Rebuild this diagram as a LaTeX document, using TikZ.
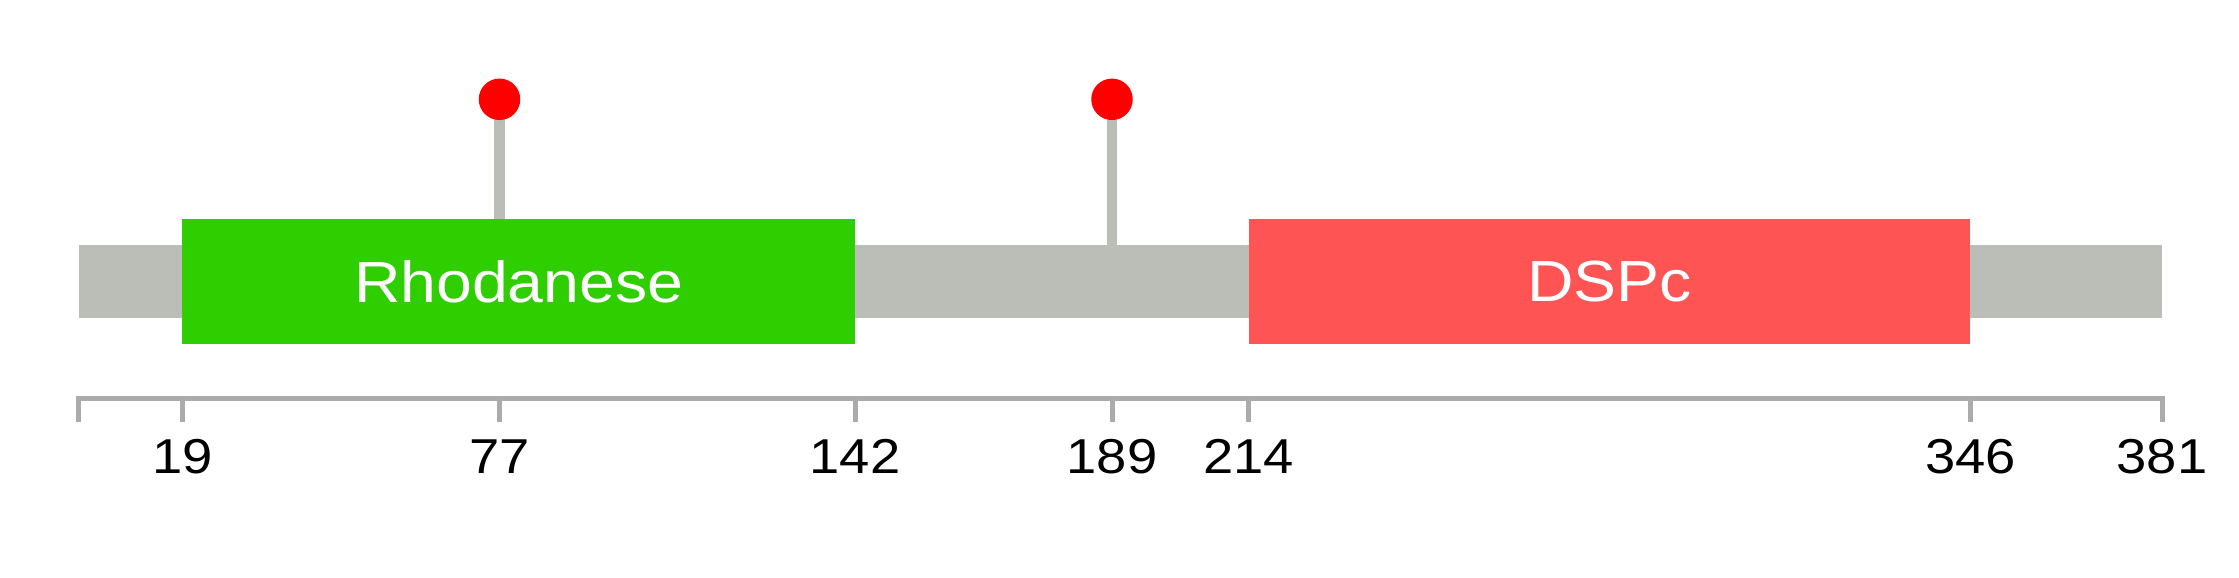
\documentclass[tikz,border=0pt]{standalone}
\usepackage{fontspec}
\setmainfont{Liberation Sans}
\definecolor{bbgrey}{RGB}{187,190,183}
\definecolor{axgrey}{RGB}{171,171,171}
\definecolor{domgreen}{RGB}{46,206,0}
\definecolor{domred}{RGB}{255,84,84}
\definecolor{dotred}{RGB}{255,0,0}
\tikzset{
  bbbox/.style={fill=bbgrey, draw=none, inner sep=0pt, anchor=north west},
  dombox/.style={draw=none, inner sep=0pt, text=white, font=\fontsize{58}{60}\selectfont},
  stemline/.style={draw=bbgrey, line width=10.5pt},
  dothead/.style={circle, fill=dotred, draw=none, inner sep=0pt, minimum size=41.5pt},
  axisline/.style={draw=axgrey, line width=5pt},
  ticklab/.style={anchor=base, inner sep=0pt, text=black, font=\fontsize{49}{50}\selectfont}
}
\begin{document}
\begin{tikzpicture}[x=1pt,y=-1pt]
\useasboundingbox[fill=white] (0,0) rectangle (2239,578);
% backbone
\node[bbbox, minimum width=2083.4pt, minimum height=72.5pt] (bb) at (78.5,245) {};
% stems
\coordinate (c1) at (499.5,99.3);
\coordinate (c2) at (1112,99.3);
\coordinate (s1) at (499.5,230);
\coordinate (s2) at (1112,246);
\draw[stemline] (c1) -- (s1);
\draw[stemline] (c2) -- (s2);
% domains
\node[dombox, fill=domgreen, minimum width=672.6pt, minimum height=125.3pt] (rhod) at (518.7,281.7) {\scalebox{1.11}[1]{Rhodanese}};
\node[dombox, fill=domred, minimum width=721.7pt, minimum height=125.3pt] (dspc) at (1609.55,281.7) {\scalebox{1.11}[1]{DSPc}};
% lollipop heads
\node[dothead] (m1) at (c1) {};
\node[dothead] (m2) at (c2) {};
% axis
\coordinate (a0) at (78.5,395.8);
\coordinate (a1) at (2162,395.8);
\coordinate (t0) at (78.5,422.3);
\coordinate (t1) at (2162,422.3);
\draw[axisline] (t0) -- ([yshift=-2.5pt]a0) -- ([yshift=-2.5pt]a1) -- (t1);
\foreach \p/\n in {182.4/19, 499.5/77, 855.0/142, 1112.0/189, 1248.7/214, 1970.4/346}{
  \coordinate (ta\n) at (\p,395.8);
  \coordinate (tb\n) at (\p,422.3);
  \draw[axisline] (ta\n) -- (tb\n);
}
\foreach \p/\n in {182.4/19, 499.5/77, 855.0/142, 1112.0/189, 1248.7/214, 1970.4/346, 2162/381}{
  \node[ticklab] (l\n) at (\p,473.5) {\scalebox{1.11}[1]{\n}};
}
\end{tikzpicture}
\end{document}
